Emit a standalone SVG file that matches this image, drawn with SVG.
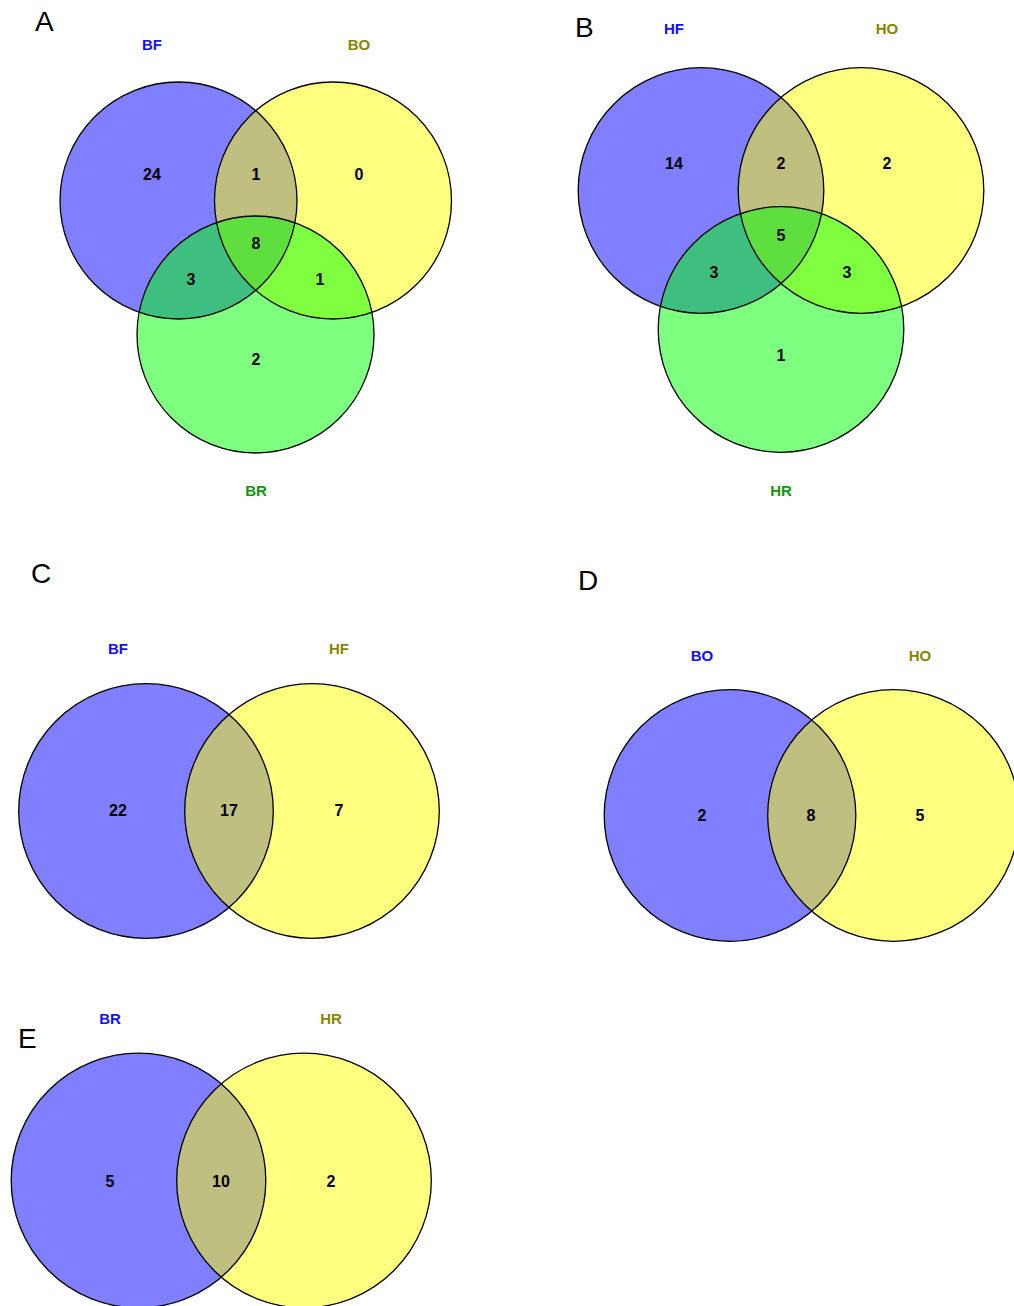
<svg xmlns="http://www.w3.org/2000/svg" width="1014" height="1306" viewBox="0 0 1014 1306">
<style>
.c{stroke:none;fill-opacity:0.5}
.o{fill:none;stroke:#000;stroke-width:1.3}
.b{fill:#0000ff}
.y{fill:#ffff00}
.g{fill:#00ff00}
.n{font-family:"Liberation Sans",Arial,sans-serif;font-weight:bold;font-size:16px;text-anchor:middle;fill:#000}
.l{font-family:"Liberation Sans",Arial,sans-serif;font-weight:bold;font-size:15px;text-anchor:middle}
.lb{fill:#1010ff}
.lo{fill:#858500}
.lg{fill:#0f960f}
.p{font-family:"Liberation Sans",Arial,sans-serif;font-size:28px;fill:#000}
</style>
<rect width="1014" height="1306" fill="#fff"/>

<g id="panelA">
<text class="p" x="35" y="31">A</text>
<g id="A-BF"><circle class="c b" cx="178.5" cy="200.5" r="118.5"/></g>
<g id="A-BO"><circle class="c y" cx="333" cy="200.5" r="118.5"/></g>
<g id="A-BR"><circle class="c g" cx="255.5" cy="334.5" r="118.5"/></g>
<g id="A-outlines">
<circle class="o" cx="178.5" cy="200.5" r="118.5"/>
<circle class="o" cx="333" cy="200.5" r="118.5"/>
<circle class="o" cx="255.5" cy="334.5" r="118.5"/>
</g>
<text class="l lb" x="152" y="49.5">BF</text>
<text class="l lo" x="359" y="49.5">BO</text>
<text class="l lg" x="256" y="495.5">BR</text>
<text class="n" x="152" y="180">24</text>
<text class="n" x="256" y="180">1</text>
<text class="n" x="359" y="180">0</text>
<text class="n" x="256" y="249">8</text>
<text class="n" x="191" y="285">3</text>
<text class="n" x="320" y="285">1</text>
<text class="n" x="256" y="365">2</text>
</g>

<g id="panelB">
<text class="p" x="575" y="37">B</text>
<g id="B-HF"><circle class="c b" cx="701" cy="190.5" r="122.8"/></g>
<g id="B-HO"><circle class="c y" cx="861" cy="190.5" r="122.8"/></g>
<g id="B-HR"><circle class="c g" cx="781" cy="329.5" r="122.8"/></g>
<g id="B-outlines">
<circle class="o" cx="701" cy="190.5" r="122.8"/>
<circle class="o" cx="861" cy="190.5" r="122.8"/>
<circle class="o" cx="781" cy="329.5" r="122.8"/>
</g>
<text class="l lb" x="674" y="33.5">HF</text>
<text class="l lo" x="887" y="33.5">HO</text>
<text class="l lg" x="781" y="495.5">HR</text>
<text class="n" x="674" y="169">14</text>
<text class="n" x="781" y="169">2</text>
<text class="n" x="887" y="169">2</text>
<text class="n" x="781" y="241">5</text>
<text class="n" x="714" y="278">3</text>
<text class="n" x="847" y="278">3</text>
<text class="n" x="781" y="361">1</text>
</g>

<g id="panelC">
<text class="p" x="31" y="583">C</text>
<g id="C-BF"><circle class="c b" cx="146" cy="811" r="127.3"/></g>
<g id="C-HF"><circle class="c y" cx="312" cy="811" r="127.3"/></g>
<g id="C-outlines">
<circle class="o" cx="146" cy="811" r="127.3"/>
<circle class="o" cx="312" cy="811" r="127.3"/>
</g>
<text class="l lb" x="118" y="653.5">BF</text>
<text class="l lo" x="339" y="653.5">HF</text>
<text class="n" x="118" y="816">22</text>
<text class="n" x="229" y="816">17</text>
<text class="n" x="339" y="816">7</text>
</g>

<g id="panelD">
<text class="p" x="578" y="590">D</text>
<g id="D-BO"><circle class="c b" cx="730" cy="815.5" r="125.8"/></g>
<g id="D-HO"><circle class="c y" cx="893.5" cy="815.5" r="125.8"/></g>
<g id="D-outlines">
<circle class="o" cx="730" cy="815.5" r="125.8"/>
<circle class="o" cx="893.5" cy="815.5" r="125.8"/>
</g>
<text class="l lb" x="702" y="660.5">BO</text>
<text class="l lo" x="920" y="660.5">HO</text>
<text class="n" x="702" y="821">2</text>
<text class="n" x="811" y="821">8</text>
<text class="n" x="920" y="821">5</text>
</g>

<g id="panelE">
<text class="p" x="18" y="1048">E</text>
<g id="E-BR"><circle class="c b" cx="138.5" cy="1180.5" r="127.3"/></g>
<g id="E-HR"><circle class="c y" cx="304" cy="1180.5" r="127.3"/></g>
<g id="E-outlines">
<circle class="o" cx="138.5" cy="1180.5" r="127.3"/>
<circle class="o" cx="304" cy="1180.5" r="127.3"/>
</g>
<text class="l lb" x="110" y="1023.5">BR</text>
<text class="l lo" x="331" y="1023.5">HR</text>
<text class="n" x="110" y="1186.5">5</text>
<text class="n" x="221" y="1186.5">10</text>
<text class="n" x="331" y="1186.5">2</text>
</g>
<g id="connectors"/>
</svg>
